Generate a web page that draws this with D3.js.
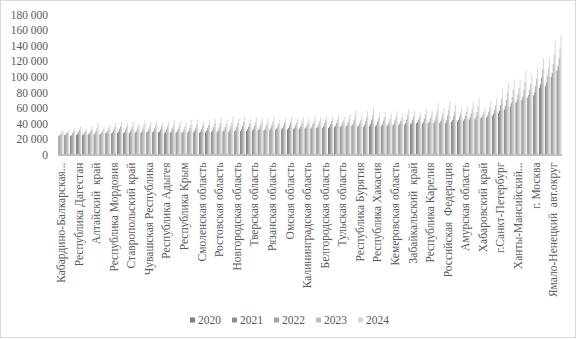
<!DOCTYPE html>
<html><head><meta charset="utf-8">
<script src="https://cdn.jsdelivr.net/npm/d3@7"></script>
<style>html,body{margin:0;padding:0;background:#fff;}svg{display:block;}text{white-space:pre;}</style>
</head><body>
<svg id="c" width="577" height="339"></svg>
<script>
const years = ["2020","2021","2022","2023","2024"];
const labelNames = ["Кабардино-Балкарская...","Республика Дагестан","Алтайский  край","Республика Мордовия","Ставропольский край","Чувашская Республика","Республика Адыгея","Республика Крым","Смоленская область","Ростовская область","Новгородская область","Тверская область","Рязанская область","Омская область","Калининградская область","Белгородская область","Тульская область","Республика Бурятия","Республика Хакасия","Кемеровская область","Забайкальский  край","Республика Карелия","Российская  Федерация","Амурская область","Хабаровский край","г.Санкт-Петербург","Ханты-Мансийский...","г. Москва","Ямало-Ненецкий  авт.округ"];
const v2020 = [24000,25000,23800,25100,25100,25800,25800,25800,27300,27300,27800,27300,27800,28100,27800,28500,28500,28500,27500,28000,28200,28000,28500,28800,28000,28500,29000,28800,29500,29300,30000,30500,30200,31000,31500,31000,31800,32000,32500,32200,33000,33500,33700,33500,34000,34500,34200,35000,35500,35800,36700,36000,35800,36500,36000,36800,37000,37500,38000,38500,39000,40200,39500,40000,40500,41000,40500,42000,42500,43500,45000,45300,47000,48000,50000,53000,58000,62000,67000,70000,73000,76000,86000,88000,100000,108000];
const v2021 = [24900,25900,25000,26400,26100,27100,27500,27000,28600,28800,29500,28800,29500,29600,29800,30100,30300,29900,29200,29900,30000,29600,30400,30700,29700,30400,31000,31000,31400,31600,32000,32700,32100,33000,33400,32800,33800,33600,34200,34100,34600,35300,35300,35400,35700,36400,35900,36900,37100,37700,39200,37700,38200,39300,38000,39000,38800,39700,39800,40800,41000,41900,41800,42000,43500,43300,43900,44600,44600,45700,47800,48500,48600,50400,52600,56700,62100,66100,70600,74600,76600,80200,90600,92300,105500,113500];
const v2022 = [26600,27600,27300,28800,28100,29600,30800,29300,31000,31800,32800,31800,32800,32300,33600,33300,33700,32600,32600,33600,33400,32600,34100,34500,32900,33900,35000,35200,34900,36000,36000,36900,35700,37000,37100,36300,37700,36600,37600,37700,37600,38800,38400,39100,38900,39900,39200,40600,40200,41500,43900,40900,42900,44600,42000,43200,42300,44000,43300,45300,45000,45000,46300,46000,49400,47700,50400,49500,48600,50000,53100,54600,51600,55000,57700,63900,69900,73900,77500,83300,83500,88300,99300,100600,116100,124100];
const v2023 = [28700,29600,29900,31700,30400,32600,34700,32000,33900,35300,36700,35300,36700,35600,38100,37000,37700,35800,36500,37900,37400,36100,38400,38800,36700,38100,39500,40100,39100,41200,40500,41800,40000,41500,41400,40300,42300,40100,41500,42000,41100,42800,41900,43400,42700,44100,43100,44900,43900,45800,49500,44700,48300,50800,46500,48100,46300,49000,47300,50600,49500,48800,51600,50500,56200,52800,58100,55300,53400,55000,59300,61900,55100,60400,63600,72200,79100,83100,85600,93600,91600,97700,109600,110300,128500,136500];
const v2024 = [31500,32400,33700,35800,33700,36700,40200,35800,38000,40200,42200,40200,42200,40200,44400,42200,43300,40200,42000,44000,43000,41000,44500,45000,42000,44000,46000,47000,45000,48500,47000,48700,46000,48000,47500,46000,48700,45000,47000,48000,46000,48500,47000,49500,48000,50000,48500,51000,49000,52000,57300,50000,56000,59500,53000,55000,52000,56000,53000,58000,56000,54000,59000,57000,65900,60000,68900,63500,60000,62000,68000,72000,60000,68000,72000,84000,92000,96000,97000,108000,103000,111000,124000,124000,146000,154000];
const yTicks = [0,20000,40000,60000,80000,100000,120000,140000,160000,180000];
const colors = ["#7f7f7f","#8f8f8f","#a5a5a5","#bdbdbd","#d6d6d6"];

(function(){
const nCat = v2020.length;
const categories = d3.range(nCat).map(i => (i % 3 === 0 && labelNames[i/3]) ? labelNames[i/3] : "cat" + i);
const series = [v2020, v2021, v2022, v2023, v2024];

const svg = d3.select("#c");
const W = 577, H = 339;
svg.append("rect").attr("x",0.5).attr("y",0.5).attr("width",W-2).attr("height",H-2)
  .attr("fill","#fff").attr("stroke","#d9d9d9").attr("stroke-width",1);

const pL = 58, pR = 562, pT = 14.7, pB = 154.5;
const y = d3.scaleLinear().domain([0,180000]).range([pB, pT]);
const x0 = d3.scaleBand().domain(d3.range(nCat)).range([pL, pR]).paddingInner(0.15).paddingOuter(0.075);
const x1 = d3.scaleBand().domain(d3.range(5)).range([0, x0.bandwidth()]);

const fontFam = "'Liberation Serif','Times New Roman',serif";

const yAxis = d3.axisLeft(y).tickValues(yTicks).tickSize(0).tickPadding(0)
  .tickFormat(d => d3.format(",")(d).replace(/,/g, " "));
const gy = svg.append("g").attr("transform", `translate(${pL-10},0)`).call(yAxis);
gy.select(".domain").remove();
gy.selectAll("text").attr("font-family", fontFam).attr("font-size", "11.5px").attr("fill", "#595959");

const g = svg.append("g");
series.forEach((vals, s) => {
  g.selectAll(".b"+s).data(vals).enter().append("rect")
    .attr("class","b"+s)
    .attr("x", (d,i) => x0(i) + x1(s))
    .attr("y", d => y(d))
    .attr("width", x1.bandwidth())
    .attr("height", d => y(0) - y(d))
    .attr("fill", colors[s]);
});

svg.append("line").attr("x1", pL).attr("x2", pR).attr("y1", pB+0.5).attr("y2", pB+0.5)
  .attr("stroke", "#bfbfbf").attr("stroke-width", 2);

const xl = svg.append("g");
categories.forEach((c, i) => {
  if (i % 3 !== 0 || !labelNames[i/3]) return;
  const cx = x0(i) + x0.bandwidth()/2;
  xl.append("text")
    .attr("transform", `translate(${cx},${pB+8}) rotate(-90)`)
    .attr("text-anchor", "end").attr("dy", "0.35em")
    .attr("font-family", fontFam).attr("font-size", "11.5px").attr("fill", "#595959")
    .text(c);
});

const lg = svg.append("g");
const lx0 = 190, lstep = 42, ly = 320;
years.forEach((yr, s) => {
  lg.append("rect").attr("x", lx0 + s*lstep).attr("y", ly-2.5).attr("width", 5).attr("height", 5).attr("fill", colors[s]);
  lg.append("text").attr("x", lx0 + s*lstep + 8).attr("y", ly).attr("dy","0.35em")
    .attr("font-family", fontFam).attr("font-size", "11.5px").attr("fill", "#595959").text(yr);
});
})();
</script>
</body></html>
